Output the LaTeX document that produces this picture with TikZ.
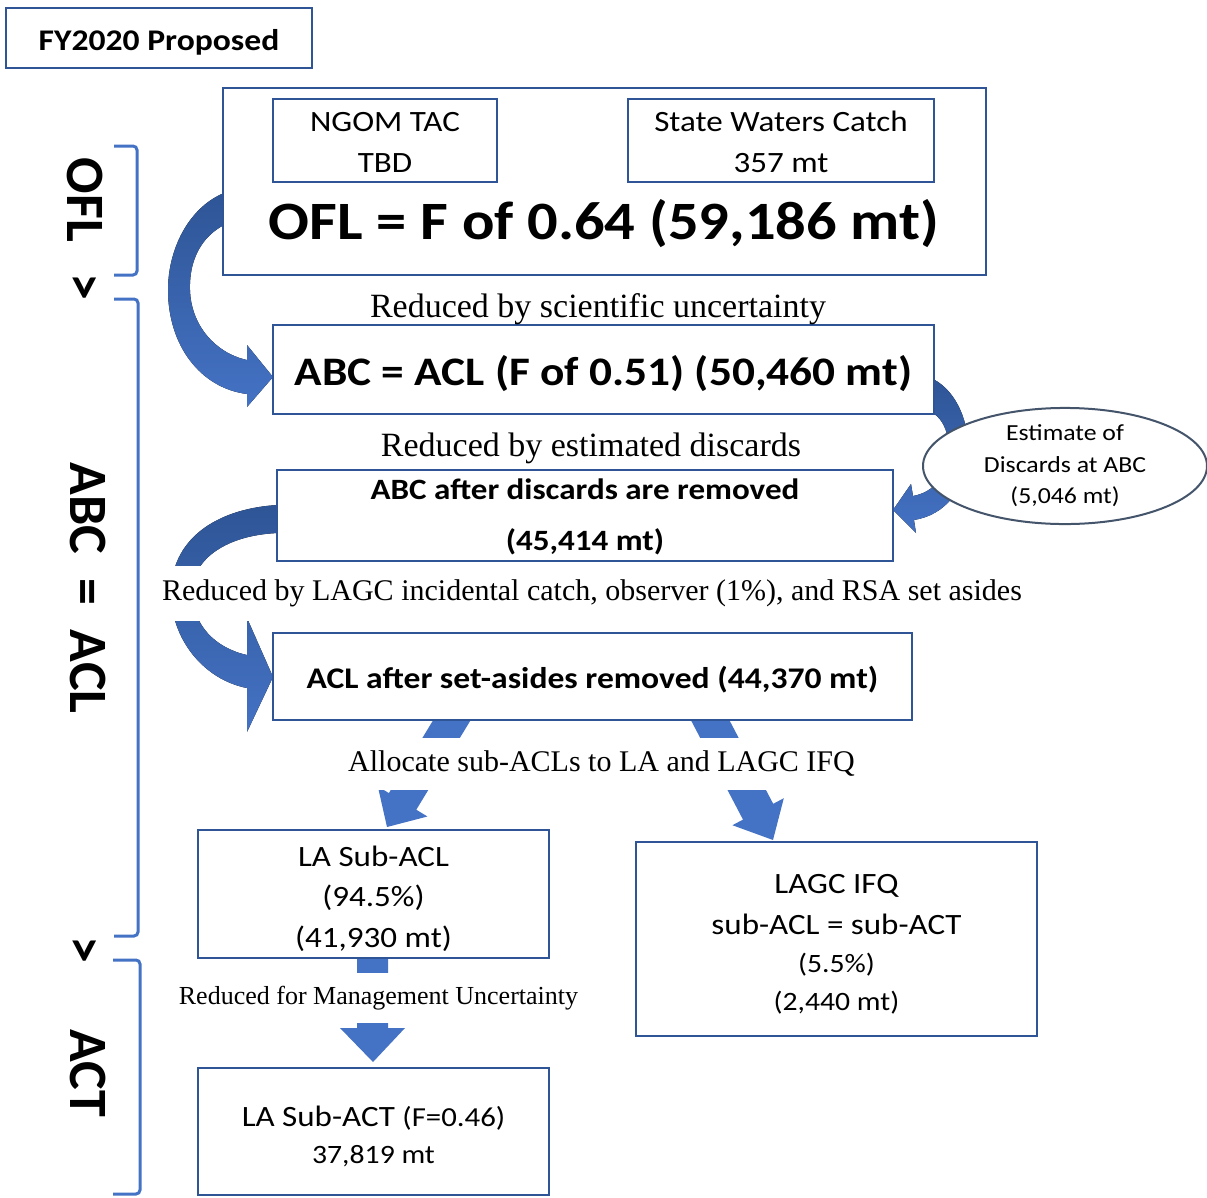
\documentclass[tikz,border=0pt]{standalone}
\usepackage{fontspec}
\setmainfont{Liberation Serif}
\newfontfamily\calfont[FakeStretch=1.12]{Carlito}
\newfontfamily\calplain{Carlito}
\usetikzlibrary{shapes.geometric,calc}
\definecolor{boxblue}{HTML}{2F5597}
\definecolor{arrowblue}{HTML}{4472C4}
\definecolor{arrowdark}{HTML}{2E5596}
\definecolor{ellblue}{HTML}{44546A}
\newcommand{\topstrut}[1]{\rule{0pt}{#1}}
\tikzset{
  box/.style={draw=boxblue, line width=2.5pt, fill=white, inner sep=0pt, align=center,
    font=\calfont\fontsize{29.5}{41}\selectfont},
  lbl/.style={inner sep=0pt},
  coverlbl/.style={fill=white, inner sep=0pt},
  sidelbl/.style={rotate=-90, inner sep=0pt, font=\calplain\bfseries\fontsize{54}{60}\selectfont},
  bracket/.style={draw=arrowblue, line width=3pt, rounded corners=4pt},
  blockarrow/.style={fill=arrowblue},
  curvearrow/.style={top color=arrowdark, bottom color=arrowblue},
}
\begin{document}
\begin{tikzpicture}[x=1pt, y=-1pt]
\useasboundingbox (0,0) rectangle (1207,1197);

% ---- block arrows (drawn first, boxes cover their ends) ----
\fill[curvearrow] (224,193) .. controls (188,208) and (168,250) .. (168,290)
  .. controls (168,345) and (200,388) .. (247,394) -- (247,407) -- (273,377) -- (247,345) -- (247,360)
  .. controls (215,353) and (191,325) .. (190,290) .. controls (189,258) and (203,236) .. (224,225) -- cycle;
\fill[curvearrow] (278,505) .. controls (222,508) and (173,535) .. (171,590)
  .. controls (170,640) and (205,680) .. (247,688) -- (247,732) -- (273,677) -- (247,618) -- (247,655)
  .. controls (215,648) and (193,625) .. (192,593) .. controls (192,558) and (228,535) .. (278,533) -- cycle;
\fill[curvearrow] (933,379) .. controls (958,392) and (970,425) .. (968,455)
  .. controls (965,490) and (945,515) .. (914,520) -- (916,533) -- (893,510) -- (911,484) -- (913,496)
  .. controls (935,492) and (946,475) .. (948,455) .. controls (950,435) and (944,420) .. (933,413) -- cycle;
\fill[blockarrow] (446,699) -- (473.4,715.6) -- (416.3,809.7) -- (427.4,816.5) -- (387,827)
  -- (377.8,786.3) -- (388.9,793.1) -- cycle;
\fill[blockarrow] (688.2,715) -- (718.4,699.2) -- (773.2,803.8) -- (783.8,798.2) -- (773,840)
  -- (732.4,825.2) -- (743,819.6) -- cycle;
\fill[blockarrow] (357,950) -- (388,950) -- (388,1028) -- (405,1028) -- (373,1062) -- (340,1028)
  -- (357,1028) -- cycle;

% ---- brackets ----
\draw[bracket] (114,146) -- (137,146) -- (137,275) -- (114,275);
\draw[bracket] (114,299) -- (138,299) -- (138,936) -- (114,936);
\draw[bracket] (113,960) -- (140,960) -- (140,1194) -- (113,1194);

% ---- side labels ----
\node[sidelbl] (sofl) at (85,200) {OFL};
\node[sidelbl] (gtone) at (82,287) {>};
\node[sidelbl] (sabc) at (88,588) {ABC\ \ =\ \ ACL};
\node[sidelbl] (gttwo) at (82,950) {>};
\node[sidelbl] (sact) at (88,1073) {ACT};

% ---- boxes ----
\node[box, minimum width=306, minimum height=60, font=\calfont\bfseries\fontsize{30}{36}\selectfont] (title) at (159,38) {\topstrut{29pt}FY2020 Proposed};
\node[box, minimum width=763, minimum height=187] (oflbox) at (604.5,181.5) {};
\node[box, minimum width=224, minimum height=83] (ngom) at (385,140.5) {\topstrut{23pt}NGOM TAC\\TBD};
\node[box, minimum width=306, minimum height=83] (state) at (781,140.5) {\topstrut{24pt}State Waters Catch\\357 mt};
\node[inner sep=0pt, anchor=base, font=\calfont\bfseries\fontsize{54}{60}\selectfont] (ofl) at (604,239) {OFL = F of 0.64 (59,186 mt)};

\node[box, minimum width=661, minimum height=89, font=\calfont\bfseries\fontsize{40.5}{48}\selectfont] (abc) at (603.5,369.5) {\topstrut{38pt}ABC = ACL (F of 0.51) (50,460 mt)};
\node[box, minimum width=616, minimum height=91, font=\calfont\bfseries\fontsize{29.5}{51}\selectfont] (abcd) at (585,515.5) {\topstrut{24pt}ABC after discards are removed\\(45,414 mt)};
\node[box, minimum width=639, minimum height=87, font=\calfont\bfseries\fontsize{30}{36}\selectfont] (acl) at (592.5,676.5) {\topstrut{28.5pt}ACL after set-asides removed (44,370 mt)};
\node[box, minimum width=351, minimum height=128, font=\calfont\fontsize{29.5}{40.5}\selectfont] (lasub) at (373.5,894) {\topstrut{30pt}LA Sub-ACL\\(94.5\%)\\(41,930 mt)};
\node[box, minimum width=401, minimum height=194] (lagc) at (836.5,939) {\topstrut{30pt}LAGC IFQ\\sub-ACL = sub-ACT\\[-3pt]{\fontsize{26.5}{38}\selectfont (5.5\%)}\\[-3pt]{\fontsize{26.5}{37}\selectfont (2,440 mt)}};
\node[box, minimum width=351, minimum height=127] (laact) at (373.5,1131.5) {\topstrut{31pt}LA Sub-ACT {\fontsize{27.5}{38}\selectfont(F=0.46)}\\[-4pt]{\fontsize{26.5}{38}\selectfont 37,819 mt}};

\node[ellipse, draw=ellblue, line width=2pt, fill=white, minimum width=284, minimum height=114, inner sep=0pt, align=center, font=\calfont\fontsize{23}{31.5}\selectfont] (est) at (1065,466) {Estimate of\\Discards at ABC\\(5,046 mt)};

% ---- serif labels ----
\node[lbl, font=\fontsize{34}{40}\selectfont] (lone) at (598,309) {Reduced by scientific uncertainty};
\node[lbl, font=\fontsize{34}{40}\selectfont] (ltwo) at (591,448) {Reduced by estimated discards};
\node[coverlbl, minimum height=55, font=\fontsize{30}{36}\selectfont] (lthree) at (592,593) {Reduced by LAGC incidental catch, observer (1\%), and RSA set asides};
\node[coverlbl, minimum height=52, font=\fontsize{30}{36}\selectfont] (lfour) at (601.5,764) {Allocate sub-ACLs to LA and LAGC IFQ};
\node[coverlbl, minimum height=50, font=\fontsize{26}{32}\selectfont] (lfive) at (378.5,998) {Reduced for Management Uncertainty};
\end{tikzpicture}
\end{document}
